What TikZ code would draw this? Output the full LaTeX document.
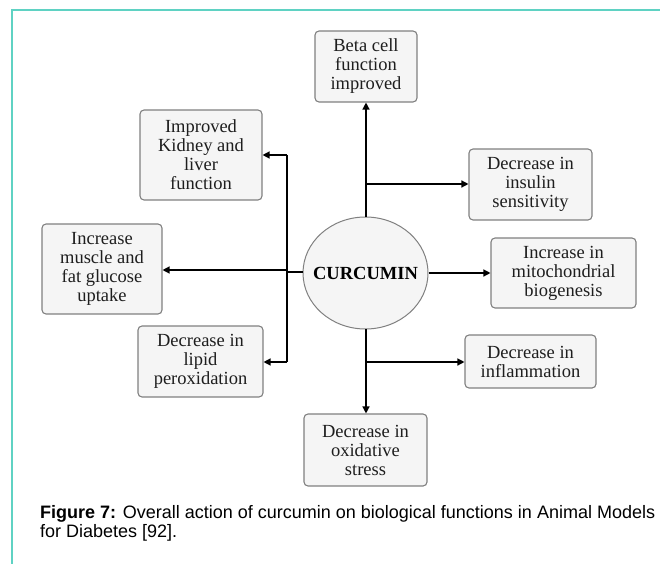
\documentclass[tikz,border=0pt]{standalone}
\usepackage{fontspec}
\setmainfont{Liberation Serif}
\newfontfamily\capfont{Liberation Sans}
\usetikzlibrary{shapes.geometric,arrows.meta}
\definecolor{frameteal}{RGB}{95,210,195}
\definecolor{boxgray}{RGB}{128,128,128}
\definecolor{boxfill}{RGB}{245,245,245}
\definecolor{txt}{RGB}{30,30,30}
\tikzset{
  x=1pt,y=-1pt,
  effectbox/.style={draw=boxgray,fill=boxfill,line width=1.1pt,rounded corners=4pt,
    align=center,inner sep=0pt,text=txt,
    font=\fontsize{18.5}{19}\selectfont},
  centre/.style={ellipse,draw=boxgray,fill=boxfill,line width=1pt,inner xsep=-25pt,inner ysep=0pt,
    font=\fontsize{18.5}{19}\selectfont\bfseries,text=black},
  link/.style={line width=1.3pt,black},
  arr/.style={link,-{Triangle[length=7pt,width=7pt]}},
  captext/.style={anchor=base west,inner sep=0pt,font=\capfont\fontsize{18}{19}\selectfont,text=black},
}
\begin{document}
\begin{tikzpicture}
\useasboundingbox (0,0) rectangle (660,564);
\draw[frameteal,line width=1.5pt] (660,10) -- (12,10) -- (12,564);
% nodes
\node[centre,minimum width=125pt,minimum height=112pt] (curc) at (365.5,273) {CURCUMIN};
\node[effectbox,minimum width=102pt,minimum height=71pt] (beta) at (366,66.5) {Beta cell\\function\\improved};
\node[effectbox,minimum width=122pt,minimum height=90pt] (kidney) at (201,155) {Improved\\Kidney and\\liver\\function};
\node[effectbox,minimum width=123pt,minimum height=71pt] (insulin) at (530.5,184.5) {Decrease in\\insulin\\sensitivity};
\node[effectbox,minimum width=120pt,minimum height=90pt] (muscle) at (102,269) {Increase\\muscle and\\fat glucose\\uptake};
\node[effectbox,minimum width=145pt,minimum height=70pt] (mito) at (563.5,273) {Increase in\\mitochondrial\\biogenesis};
\node[effectbox,minimum width=125pt,minimum height=71pt] (lipid) at (200.5,361.5) {Decrease in\\lipid\\peroxidation};
\node[effectbox,minimum width=131pt,minimum height=53pt] (inflam) at (530.5,361.5) {Decrease in\\inflammation};
\node[effectbox,minimum width=123pt,minimum height=72pt] (oxid) at (365.5,450) {Decrease in\\oxidative\\stress};
% junctions
\coordinate (ctop) at (366,217);
\coordinate (cbot) at (366,329);
\coordinate (jins) at (366,184);
\coordinate (jinf) at (366,362);
\coordinate (lmid) at (287,272);
\coordinate (ltop) at (287,155);
\coordinate (lbot) at (287,362);
\coordinate (lmus) at (287,270);
% connectors
\draw[arr] (ctop) -- (beta.south -| ctop);
\draw[arr] (jins) -- (insulin.west |- jins);
\draw[arr] (curc.east) -- (mito.west |- curc.east);
\draw[arr] (cbot) -- (oxid.north -| cbot);
\draw[arr] (jinf) -- (inflam.west |- jinf);
\draw[link] (curc.west |- lmid) -- (lmid);
\draw[link] (ltop) -- (lbot);
\draw[arr] (ltop) -- (kidney.east |- ltop);
\draw[arr] (lmus) -- (muscle.east |- lmus);
\draw[arr] (lbot) -- (lipid.east |- lbot);
% caption
\node[captext] (cap1) at (40,518)
  {\textbf{Figure 7:} Overall action of curcumin on biological functions in Animal Models};
\node[captext] (cap2) at (40,537.5)
  {for Diabetes [92].};
\end{tikzpicture}
\end{document}
